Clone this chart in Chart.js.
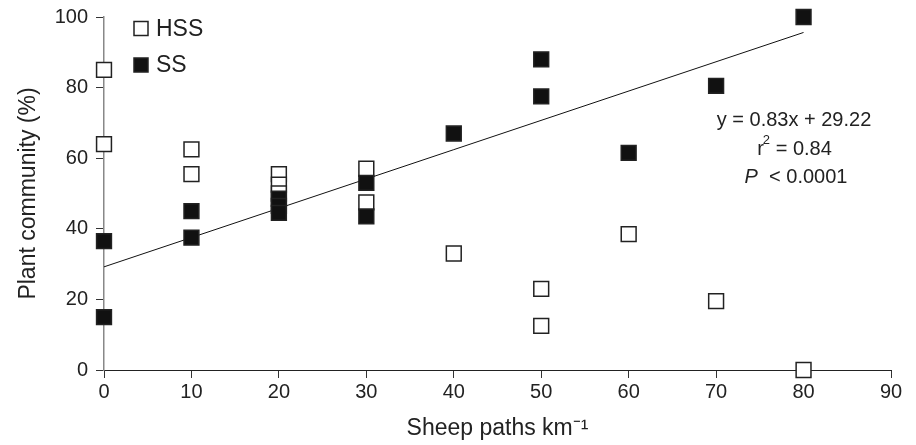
<!DOCTYPE html>
<html>
<head>
<meta charset="utf-8">
<script src="https://cdn.jsdelivr.net/npm/chart.js@4.4.0/dist/chart.umd.min.js"></script>
<style>
  html, body { margin: 0; padding: 0; background: #fff; }
  #wrap { width: 916px; height: 445px; }
</style>
</head>
<body>
<div id="wrap"><canvas id="chart" width="916" height="445"></canvas></div>
<script>
// Sheep paths km-1 (x) and plant community % (y)
const hssX = [0, 0, 10, 10, 20, 20, 20, 30, 30, 40, 50, 50, 60, 70, 80];
const hssY = [85, 64, 62.5, 55.5, 55.5, 52.5, 50, 57, 47.5, 33, 23, 12.5, 38.5, 19.5, 0];
const ssX = [0, 0, 10, 10, 20, 20, 20, 30, 30, 40, 50, 50, 60, 70, 80];
const ssY = [36.5, 15, 45, 37.5, 48.5, 46.5, 44.5, 53, 43.5, 67, 88, 77.5, 61.5, 80.5, 100];

// fitted line from the printed equation
const slope = 0.83;
const intercept = 29.22;
const fitX = [0, 80];

const xTicks = [0, 10, 20, 30, 40, 50, 60, 70, 80, 90];
const yTicks = [0, 20, 40, 60, 80, 100];

const statLines = ['y = 0.83x + 29.22', 'r2 = 0.84', 'P < 0.0001'];

const FONT = '"Liberation Sans", Arial, sans-serif';
const TXT = '#222';

const toPoints = (xs, ys) => xs.map((x, i) => ({ x: x, y: ys[i] }));

// legend and equation drawn in the plot area
const extras = {
  id: 'extras',
  afterDatasetsDraw(chart) {
    const c = chart.ctx;
    c.save();
    // legend
    const items = [
      { label: 'HSS', fill: '#fff', cy: 28.5 },
      { label: 'SS', fill: '#111', cy: 65 }
    ];
    items.forEach(it => {
      c.fillStyle = it.fill;
      c.strokeStyle = '#222';
      c.lineWidth = 1.5;
      c.fillRect(134, it.cy - 7, 14, 14);
      c.strokeRect(134, it.cy - 7, 14, 14);
      c.fillStyle = TXT;
      c.font = '23px ' + FONT;
      c.textBaseline = 'middle';
      c.textAlign = 'left';
      c.fillText(it.label, 156, it.cy + 1);
    });

    // stats block
    c.font = '20px ' + FONT;
    c.textAlign = 'center';
    c.textBaseline = 'middle';
    c.fillStyle = TXT;
    c.fillText(statLines[0], 794, 120);

    // r^2 line with superscript
    const r = 'r', rest = ' = 0.84';
    const wr = c.measureText(r).width;
    c.font = '13px ' + FONT;
    const w2 = c.measureText('2').width;
    c.font = '20px ' + FONT;
    const wrest = c.measureText(rest).width;
    let x0 = 795 - (wr + w2 + wrest) / 2;
    c.textAlign = 'left';
    c.fillText(r, x0, 149);
    c.font = '13px ' + FONT;
    c.fillText('2', x0 + wr - 1, 140);
    c.font = '20px ' + FONT;
    c.fillText(rest, x0 + wr + w2 - 1, 149);

    // P line, P italic
    c.font = 'italic 20px ' + FONT;
    const wp = c.measureText('P').width;
    c.font = '20px ' + FONT;
    const wv = c.measureText('  < 0.0001').width;
    x0 = 796 - (wp + wv) / 2;
    c.font = 'italic 20px ' + FONT;
    c.fillText('P', x0, 177);
    c.font = '20px ' + FONT;
    c.fillText('  < 0.0001', x0 + wp, 177);
    c.restore();
  }
};

new Chart(document.getElementById('chart'), {
  type: 'scatter',
  data: {
    datasets: [
      {
        label: 'Fit',
        type: 'line',
        data: fitX.map(x => ({ x: x, y: slope * x + intercept })),
        borderColor: '#111',
        borderWidth: 1,
        pointRadius: 0,
        clip: false,
        order: 3
      },
      {
        label: 'HSS',
        data: toPoints(hssX, hssY),
        pointStyle: 'rect',
        pointRadius: 10.5,
        pointHoverRadius: 10.5,
        backgroundColor: '#fff',
        borderColor: '#222',
        borderWidth: 1.5,
        clip: false,
        order: 2
      },
      {
        label: 'SS',
        data: toPoints(ssX, ssY),
        pointStyle: 'rect',
        pointRadius: 10.5,
        pointHoverRadius: 10.5,
        backgroundColor: '#111',
        borderColor: '#222',
        borderWidth: 1.5,
        clip: false,
        order: 1
      }
    ]
  },
  options: {
    responsive: false,
    animation: false,
    events: [],
    layout: { padding: { top: 17, right: 25, left: 0, bottom: 0 } },
    plugins: {
      legend: { display: false },
      tooltip: { enabled: false }
    },
    scales: {
      x: {
        type: 'linear',
        min: 0,
        max: 90,
        afterBuildTicks: s => { s.ticks = xTicks.map(v => ({ value: v })); },
        afterFit: s => {
          s.height = 445 - 17 - 353;
          s.paddingLeft = 0;
          s.paddingRight = 0;
        },
        border: { display: true, color: '#222', width: 1 },
        grid: { display: true, drawOnChartArea: false, drawTicks: true, tickLength: 8, color: '#333', tickWidth: 1 },
        ticks: { color: TXT, font: { family: FONT, size: 20 }, padding: 2, maxRotation: 0 },
        title: {
          display: true,
          text: 'Sheep paths km\u207B\u00B9',
          color: TXT,
          font: { family: FONT, size: 23 },
          padding: { top: 0, bottom: 3 }
        }
      },
      y: {
        type: 'linear',
        min: 0,
        max: 100,
        afterBuildTicks: s => { s.ticks = yTicks.map(v => ({ value: v })); },
        afterFit: s => {
          s.width = 104;
          s.paddingTop = 0;
          s.paddingBottom = 0;
        },
        border: { display: true, color: '#888', width: 1.5 },
        grid: { display: true, drawOnChartArea: false, drawTicks: true, tickLength: 8, color: '#333', tickWidth: 1 },
        ticks: { color: TXT, font: { family: FONT, size: 20 }, padding: 8 },
        title: {
          display: true,
          text: 'Plant community (%)',
          color: TXT,
          font: { family: FONT, size: 23 },
          padding: { top: 15, bottom: 0 }
        }
      }
    }
  },
  plugins: [extras]
});
</script>
</body>
</html>
